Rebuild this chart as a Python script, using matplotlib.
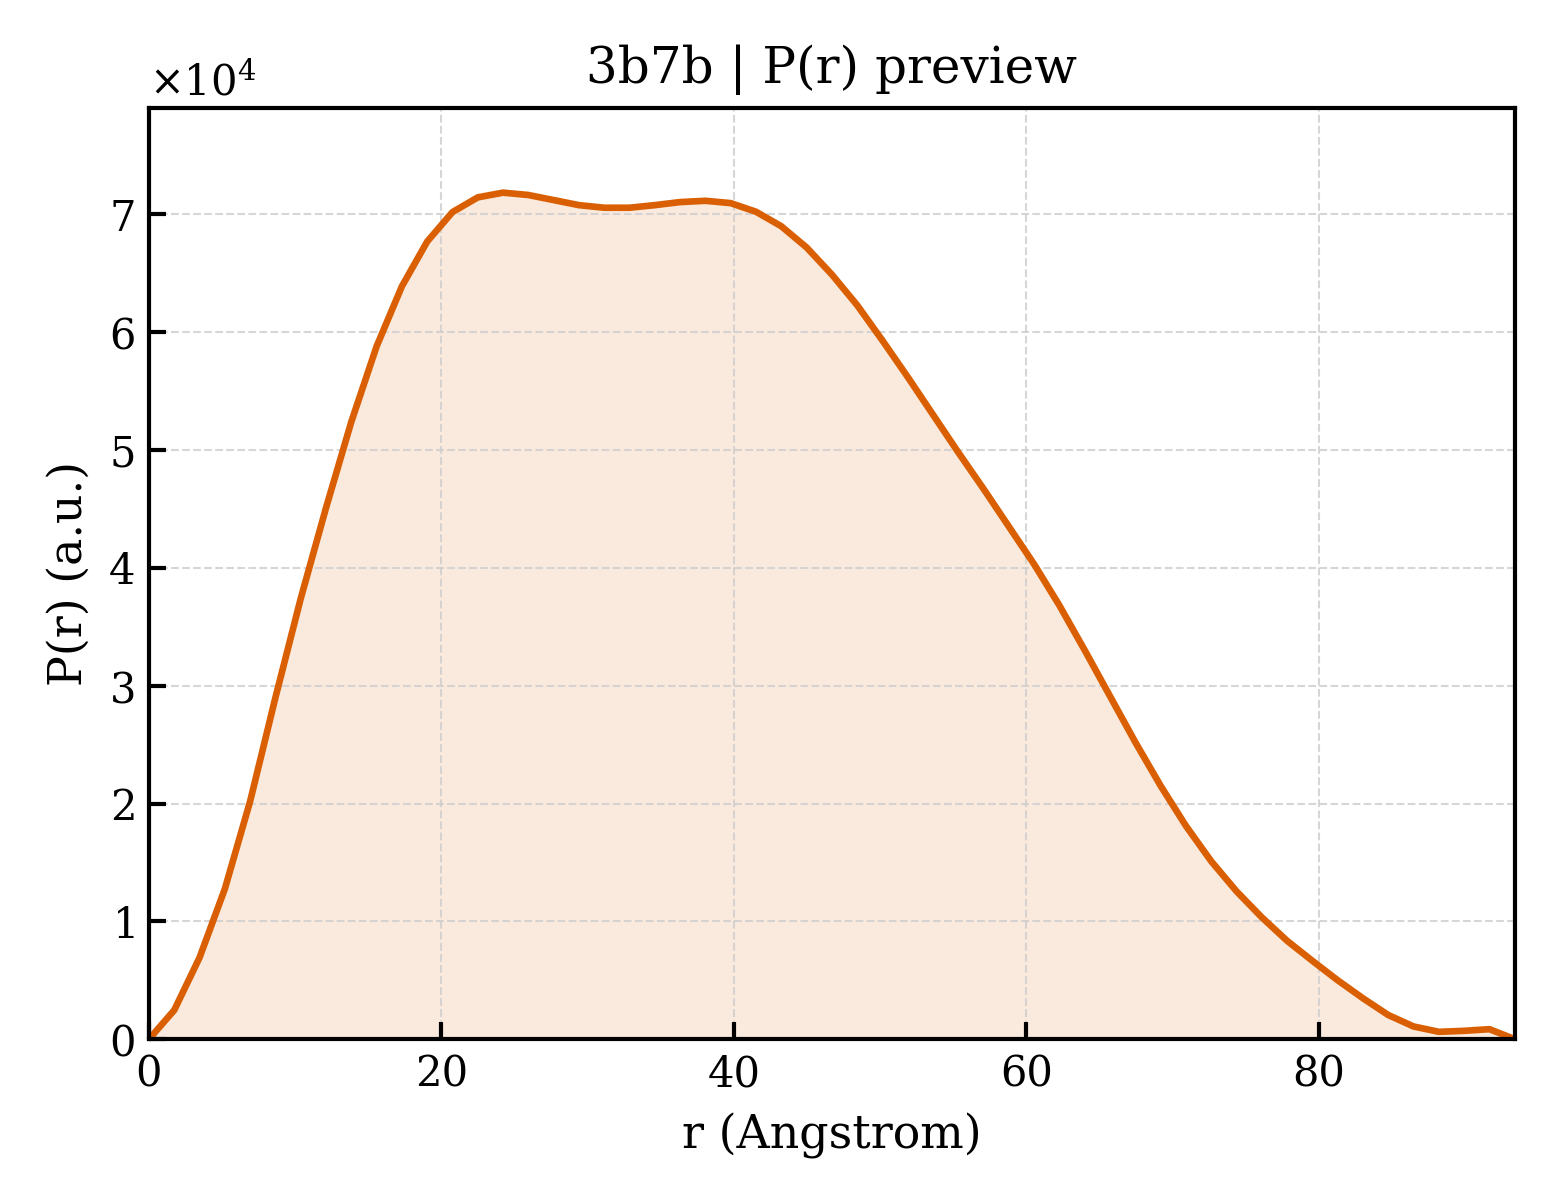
import numpy as np
import matplotlib

matplotlib.use("Agg")
import matplotlib.pyplot as plt

plt.rcParams["font.family"] = "DejaVu Serif"
plt.rcParams["mathtext.fontset"] = "dejavuserif"

dmax = 93.4
r = np.linspace(0.0, dmax, 55)
pr_1e4 = [
    0.0, 0.247, 0.693, 1.276, 2.02, 2.90, 3.74, 4.51, 5.24, 5.88,
    6.39, 6.77, 7.02, 7.145, 7.185, 7.165, 7.122, 7.079, 7.057, 7.057,
    7.079, 7.105, 7.116, 7.096, 7.023, 6.90, 6.72, 6.49, 6.23, 5.93,
    5.62, 5.30, 4.98, 4.67, 4.35, 4.03, 3.68, 3.30, 2.91, 2.52,
    2.15, 1.81, 1.51, 1.255, 1.034, 0.835, 0.665, 0.50, 0.347, 0.205,
    0.108, 0.0625, 0.071, 0.085, 0.0,
]
pr = np.array(pr_1e4) * 1e4

color = "#d95f02"

fig, ax = plt.subplots(figsize=(5.2, 4.0), dpi=300)
fig.subplots_adjust(left=0.0955, right=0.971, bottom=0.134, top=0.91)

ax.fill_between(r, pr, 0, color=color, alpha=0.13, linewidth=0)
ax.plot(r, pr, color=color, lw=1.6)

ax.set_xlim(0, dmax)
ax.set_ylim(0, pr.max() * 1.1)
ax.set_xticks([0, 20, 40, 60, 80])

ax.ticklabel_format(axis="y", style="sci", scilimits=(0, 0), useMathText=True)
ax.yaxis.get_offset_text().set_fontsize(10)

ax.tick_params(direction="in", length=4, width=1.0, labelsize=10)
for sp in ax.spines.values():
    sp.set_linewidth(1.0)

ax.grid(True, linestyle="--", linewidth=0.5, color="#cccccc", alpha=0.8)

ax.set_xlabel("r (Angstrom)", fontsize=11)
ax.set_ylabel("P(r) (a.u.)", fontsize=11)
ax.set_title("3b7b | P(r) preview", fontsize=12)

fig.savefig("out.png", dpi=300)
plt.close(fig)
